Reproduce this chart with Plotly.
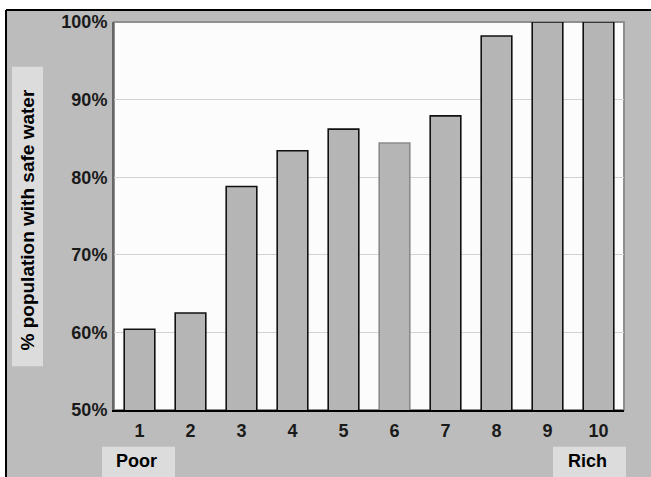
import plotly.graph_objects as go

deciles = [1, 2, 3, 4, 5, 6, 7, 8, 9, 10]
safe_water = [60.4, 62.5, 78.8, 83.4, 86.2, 84.4, 87.9, 98.2, 100, 100]
outline_colors = ["#111111"] * 5 + ["#8a8a8a"] + ["#111111"] * 4
y_ticks = [50, 60, 70, 80, 90, 100]
y_tick_labels = [f"{v}%" for v in y_ticks]
x_tick_labels = [str(d) for d in deciles]

W, H = 651, 477
L, R, T, B = 114, 624, 20, 410
pw, ph = R - L, B - T


def px(x):
    return (x - L) / pw


def py(y):
    return (B - y) / ph


FONT = "Liberation Sans, Arial, sans-serif"
GRAY_BG = "#bcbcbc"

fig = go.Figure(
    go.Bar(
        x=deciles,
        y=safe_water,
        width=0.6,
        marker=dict(color="#b5b5b5", line=dict(color=outline_colors, width=1.6)),
        hoverinfo="skip",
    )
)

shapes = [
    dict(type="rect", xref="paper", yref="paper", x0=px(-20), x1=px(680), y0=py(8), y1=py(-30),
         fillcolor="white", line=dict(width=0), layer="below"),
    dict(type="rect", xref="paper", yref="paper", x0=px(-20), x1=px(6), y0=py(500), y1=py(-30),
         fillcolor="white", line=dict(width=0), layer="below"),
    dict(type="line", xref="paper", yref="paper", x0=px(6), x1=px(680), y0=py(8), y1=py(8),
         line=dict(color="black", width=2)),
    dict(type="line", xref="paper", yref="paper", x0=px(6), x1=px(6), y0=py(8), y1=py(500),
         line=dict(color="black", width=2)),
    dict(type="rect", xref="paper", yref="paper", x0=0, x1=1, y0=0, y1=1,
         line=dict(color="#8f8f8f", width=2), fillcolor="rgba(0,0,0,0)", layer="below"),
    dict(type="rect", xref="paper", yref="paper", x0=px(12), x1=px(43), y0=py(366), y1=py(65),
         fillcolor="#dcdcdc", line=dict(width=0)),
    dict(type="rect", xref="paper", yref="paper", x0=px(102), x1=px(175), y0=py(490), y1=py(447),
         fillcolor="#dcdcdc", line=dict(width=0)),
    dict(type="rect", xref="paper", yref="paper", x0=px(553), x1=px(626), y0=py(490), y1=py(447),
         fillcolor="#dcdcdc", line=dict(width=0)),
]

annotations = [
    dict(text="% population with safe water", xref="paper", yref="paper", x=px(27.5), y=py(219),
         xanchor="center", yanchor="middle",
         textangle=-90, showarrow=False, font=dict(family=FONT, size=19, color="black", weight="bold")),
    dict(text="Poor", xref="paper", yref="paper", x=px(136), y=py(461),
         xanchor="center", yanchor="middle",
         showarrow=False, font=dict(family=FONT, size=18, color="black", weight="bold")),
    dict(text="Rich", xref="paper", yref="paper", x=px(587), y=py(461),
         xanchor="center", yanchor="middle",
         showarrow=False, font=dict(family=FONT, size=18, color="black", weight="bold")),
]

fig.update_layout(
    width=W,
    height=H,
    margin=dict(l=L, r=W - R, t=T, b=H - B, pad=0),
    paper_bgcolor=GRAY_BG,
    plot_bgcolor="#fcfcfc",
    showlegend=False,
    shapes=shapes,
    annotations=annotations,
    xaxis=dict(
        range=[0.5, 10.5],
        tickvals=deciles,
        ticktext=x_tick_labels,
        showgrid=False,
        zeroline=False,
        showline=True,
        linecolor="black",
        linewidth=2,
        ticks="outside",
        ticklen=3,
        tickcolor="rgba(0,0,0,0)",
        tickfont=dict(family=FONT, size=18, color="#1a1a1a", weight="bold"),
        fixedrange=True,
    ),
    yaxis=dict(
        range=[50, 100],
        tickvals=y_ticks,
        ticktext=y_tick_labels,
        showgrid=True,
        gridcolor="#d2d2d2",
        gridwidth=1,
        zeroline=False,
        showline=True,
        linecolor="#666666",
        linewidth=2,
        ticks="outside",
        ticklen=1,
        tickcolor="rgba(0,0,0,0)",
        tickfont=dict(family=FONT, size=18, color="#1a1a1a", weight="bold"),
        fixedrange=True,
    ),
)

fig.write_html(
    "out.html",
    config={"displayModeBar": False},
    post_script="document.body.style.margin='0';document.body.style.overflow='hidden';",
)
